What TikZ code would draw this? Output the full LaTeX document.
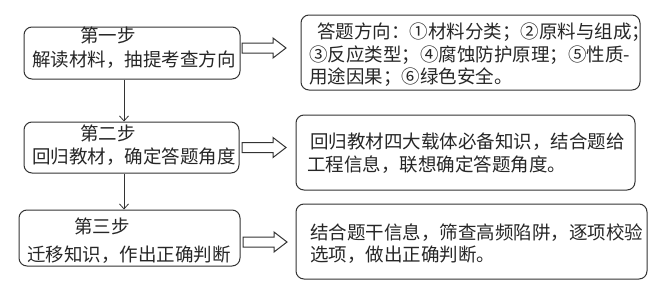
\documentclass[tikz,border=0pt]{standalone}
\usepackage{fontspec}
\newfontfamily\cjk{Noto Sans CJK SC}
\usetikzlibrary{arrows.meta}
\begin{document}
\begin{tikzpicture}[x=1pt,y=-1pt,
  box/.style={draw=black!80, line width=1pt, rounded corners=8pt, inner sep=0pt},
  txt/.style={anchor=west, inner sep=0pt, font=\cjk\fontsize{18.5}{22}\selectfont, text=black!85},
  varrow/.style={-{Straight Barb[length=5pt,width=9pt]}, line width=0.8pt, draw=black!80},
  harrow/.style={draw=black!80, line width=1pt, fill=white}]
\useasboundingbox (0,0) rectangle (665,295);
% left boxes
\node[box, minimum width=216pt, minimum height=52pt] (s1) at (132,53) {};
\node[box, minimum width=215pt, minimum height=51pt] (s2) at (131.5,147.5) {};
\node[box, minimum width=221pt, minimum height=56pt] (s3) at (129.5,238) {};
% right boxes
\node[box, minimum width=339pt, minimum height=75pt] (r1) at (470.5,52.5) {};
\node[box, minimum width=339pt, minimum height=75pt] (r2) at (465.5,152.5) {};
\node[box, minimum width=351pt, minimum height=75pt] (r3) at (471.5,241.5) {};
% left texts
\node[txt] (h1) at (80,35) {第一步};
\node[txt] (l1) at (32,60) {解读材料，抽提考查方向};
\node[txt] (h2) at (80,133) {第二步};
\node[txt] (l2) at (32,157) {回归教材，确定答题角度};
\node[txt] (h3) at (74,226) {第三步};
\node[txt] (l3) at (27,255) {迁移知识，作出正确判断};
% right texts
\node[txt] (t11) at (317,32) {答题方向：①材料分类；②原料与组成；};
\node[txt] (t12) at (309,55) {③反应类型；④腐蚀防护原理；⑤性质-};
\node[txt] (t13) at (309,77) {用途因果；⑥绿色安全。};
\node[txt] (t21) at (310,142) {回归教材四大载体必备知识，结合题给};
\node[txt] (t22) at (307,165) {工程信息，联想确定答题角度。};
\node[txt] (t31) at (310,233) {结合题干信息，筛查高频陷阱，逐项校验};
\node[txt] (t32) at (310,255) {选项，做出正确判断。};
% vertical arrows
\draw[varrow] ([xshift=-8pt]s1.south) -- ([xshift=-8pt]s1.south |- s2.north);
\draw[varrow] ([xshift=-7.5pt]s2.south) -- ([xshift=-7.5pt]s2.south |- s3.north);
% hollow block arrows
\coordinate (a1) at (242,48);
\coordinate (a2) at (242,147.5);
\coordinate (a3) at (243,242);
\foreach \a in {a1,a2,a3}
  \draw[harrow] (\a) ++(0,-5) -- ++(31,0) -- ++(0,-5) -- ++(13,10) -- ++(-13,10) -- ++(0,-5) -- ++(-31,0) -- cycle;
\end{tikzpicture}
\end{document}
